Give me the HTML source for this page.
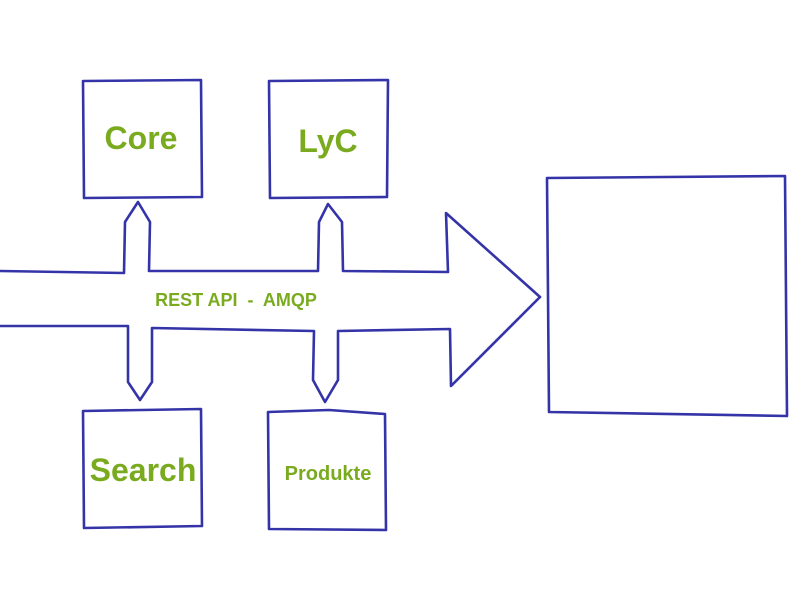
<!DOCTYPE html>
<html><head><meta charset="utf-8"><style>
html,body{margin:0;padding:0;background:#fff;}
svg{display:block}
text{font-family:"Liberation Sans",sans-serif;font-weight:bold;fill:#7aab1f;white-space:pre}
</style></head><body>
<svg width="800" height="600" viewBox="0 0 800 600" xmlns="http://www.w3.org/2000/svg">
<g fill="none" stroke="#3434a8" stroke-width="2.6" stroke-linejoin="round" stroke-linecap="round">
<path d="M83 81 L201 80 L202 197 L84 198 Z"/>
<path d="M269 81 L388 80 L387 197 L270 198 Z"/>
<path d="M83 411 L201 409 L202 526 L84 528 Z"/>
<path d="M268 412 L329 410 L385 414 L386 530 L269 529 Z"/>
<path d="M547 178 L785 176 L787 416 L549 412 Z"/>
<path d="M0 271 L124 273 L125 222 L138 202 L150 222 L149 271 L318 271 L319 222 L328 204 L342 222 L343 271 L448 272 L446 213 L540 297"/>
<path d="M0 326 L128 326 L128 382 L140 400 L152 382 L152 328 L314 331 L313 380 L325 402 L338 380 L338 331 L450 329 L451 386 L540 297"/>
</g>
<text x="141" y="149" font-size="32" text-anchor="middle">Core</text>
<text x="328" y="152" font-size="32" text-anchor="middle">LyC</text>
<text x="143" y="481" font-size="32" text-anchor="middle">Search</text>
<text x="328" y="480" font-size="20" text-anchor="middle">Produkte</text>
<text x="236" y="306" font-size="18" text-anchor="middle" xml:space="preserve">REST API  -  AMQP</text>
</svg>
</body></html>
